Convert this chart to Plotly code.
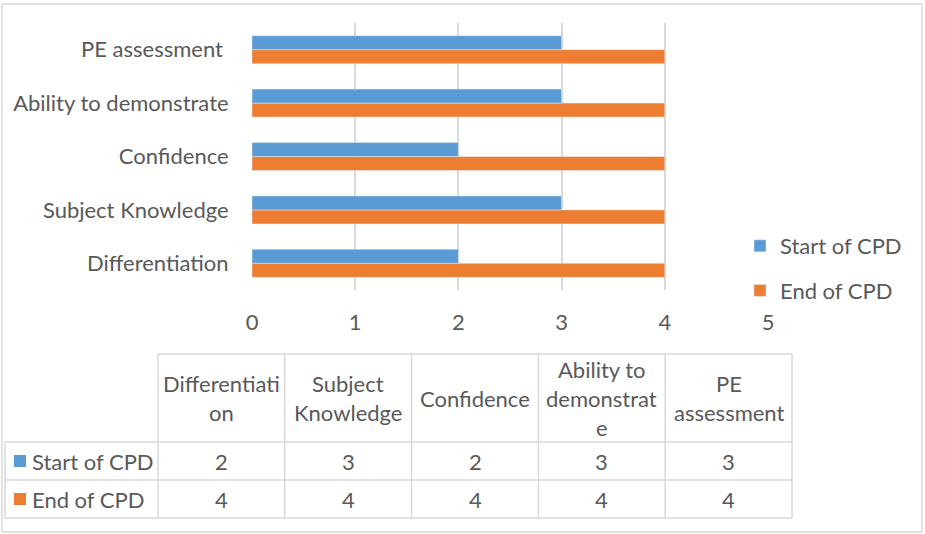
import plotly.graph_objects as go

categories = ["Differentiation", "Subject Knowledge", "Confidence", "Ability to demonstrate", "PE assessment"]
start_cpd = [2, 3, 2, 3, 3]
end_cpd = [4, 4, 4, 4, 4]
series_names = ["Start of CPD", "End of CPD"]
header_lines = [["Differentiati", "on"], ["Subject", "Knowledge"], ["Confidence"],
                ["Ability to", "demonstrat", "e"], ["PE", "assessment"]]
x_ticks = [0, 1, 2, 3, 4, 5]

BLUE = "#5B9BD5"
ORANGE = "#ED7D31"
TXT = "#595959"
GRID = "#D9D9D9"
FONT = "Lato"
FS = 22

W, H = 925, 534


def px(x):
    return x / W


def py(y):
    return 1 - y / H


fig = go.Figure()
fig.add_trace(go.Bar(y=categories, x=end_cpd, name=series_names[1], orientation="h",
                     marker_color=ORANGE, legendgroup="b", legendrank=2))
fig.add_trace(go.Bar(y=categories, x=start_cpd, name=series_names[0], orientation="h",
                     marker_color=BLUE, legendgroup="a", legendrank=1))

shapes = []
annotations = []

# outer chart border
shapes.append(dict(type="rect", xref="paper", yref="paper", x0=px(2), x1=px(922), y0=py(532), y1=py(4),
                   line=dict(color=GRID, width=1.5), fillcolor="rgba(0,0,0,0)"))

# data table
col_edges = [5, 158, 284.8, 411.6, 538.4, 665.2, 792]
row_edges = [354, 442, 480, 518]
lc = dict(color=GRID, width=1.5)
shapes.append(dict(type="line", xref="paper", yref="paper", x0=px(col_edges[1]), x1=px(col_edges[-1]),
                   y0=py(row_edges[0]), y1=py(row_edges[0]), line=lc))
for r in row_edges[1:]:
    shapes.append(dict(type="line", xref="paper", yref="paper", x0=px(col_edges[0]), x1=px(col_edges[-1]),
                       y0=py(r), y1=py(r), line=lc))
shapes.append(dict(type="line", xref="paper", yref="paper", x0=px(col_edges[0]), x1=px(col_edges[0]),
                   y0=py(row_edges[1]), y1=py(row_edges[-1]), line=lc))
for c in col_edges[1:]:
    shapes.append(dict(type="line", xref="paper", yref="paper", x0=px(c), x1=px(c),
                       y0=py(row_edges[0]), y1=py(row_edges[-1]), line=lc))

centers = [(col_edges[i] + col_edges[i + 1]) / 2 for i in range(1, 6)]
line_h = 29
hdr_mid = (row_edges[0] + row_edges[1]) / 2
for i, lines in enumerate(header_lines):
    n = len(lines)
    for j, t in enumerate(lines):
        yy = hdr_mid + (j - (n - 1) / 2) * line_h
        annotations.append(dict(x=px(centers[i]), y=py(yy), xref="paper", yref="paper", text=t,
                                showarrow=False, xanchor="center", yanchor="middle",
                                font=dict(family=FONT, size=FS, color=TXT)))

for r, (name, vals, col) in enumerate([(series_names[0], start_cpd, BLUE), (series_names[1], end_cpd, ORANGE)]):
    yc = (row_edges[r + 1] + row_edges[r + 2]) / 2
    shapes.append(dict(type="rect", xref="paper", yref="paper", x0=px(14), x1=px(26),
                       y0=py(yc + 6), y1=py(yc - 6), line=dict(width=0), fillcolor=col))
    annotations.append(dict(x=px(30), y=py(yc), xref="paper", yref="paper", text=name,
                            showarrow=False, xanchor="left", yanchor="middle",
                            font=dict(family=FONT, size=FS, color=TXT)))
    for i, v in enumerate(vals):
        annotations.append(dict(x=px(centers[i]), y=py(yc), xref="paper", yref="paper", text=str(v),
                                showarrow=False, xanchor="center", yanchor="middle",
                                font=dict(family=FONT, size=FS, color=TXT)))

fig.update_layout(
    width=W, height=H,
    margin=dict(l=0, r=0, t=0, b=0),
    paper_bgcolor="white", plot_bgcolor="white",
    barmode="group", bargap=0.476, bargroupgap=0,
    font=dict(family=FONT, size=FS, color=TXT),
    xaxis=dict(domain=[px(252), px(768)], range=[0, 5], tickvals=x_ticks, showgrid=True,
               gridcolor=GRID, gridwidth=1.5, zeroline=False, showline=False, automargin=False,
               ticks="outside", ticklen=13, tickcolor="rgba(0,0,0,0)",
               tickfont=dict(family=FONT, size=FS, color=TXT), fixedrange=True),
    yaxis=dict(domain=[py(290), py(23)], type="category", categoryorder="array", automargin=False,
               categoryarray=categories, showgrid=False, zeroline=False, showline=False,
               ticks="outside", ticklen=18, tickcolor="rgba(0,0,0,0)",
               tickfont=dict(family=FONT, size=FS, color=TXT),
               tickvals=categories, ticktext=[c + ("\u00a0" if c == "PE assessment" else "") for c in categories]),
    legend=dict(x=px(740), y=py(225), xanchor="left", yanchor="top", traceorder="grouped",
                tracegroupgap=13, font=dict(family=FONT, size=FS, color=TXT), bgcolor="rgba(0,0,0,0)"),
    shapes=shapes, annotations=annotations,
)

fig.write_html("out.html", config={"displayModeBar": False},
               post_script="document.body.style.margin='0px';")
